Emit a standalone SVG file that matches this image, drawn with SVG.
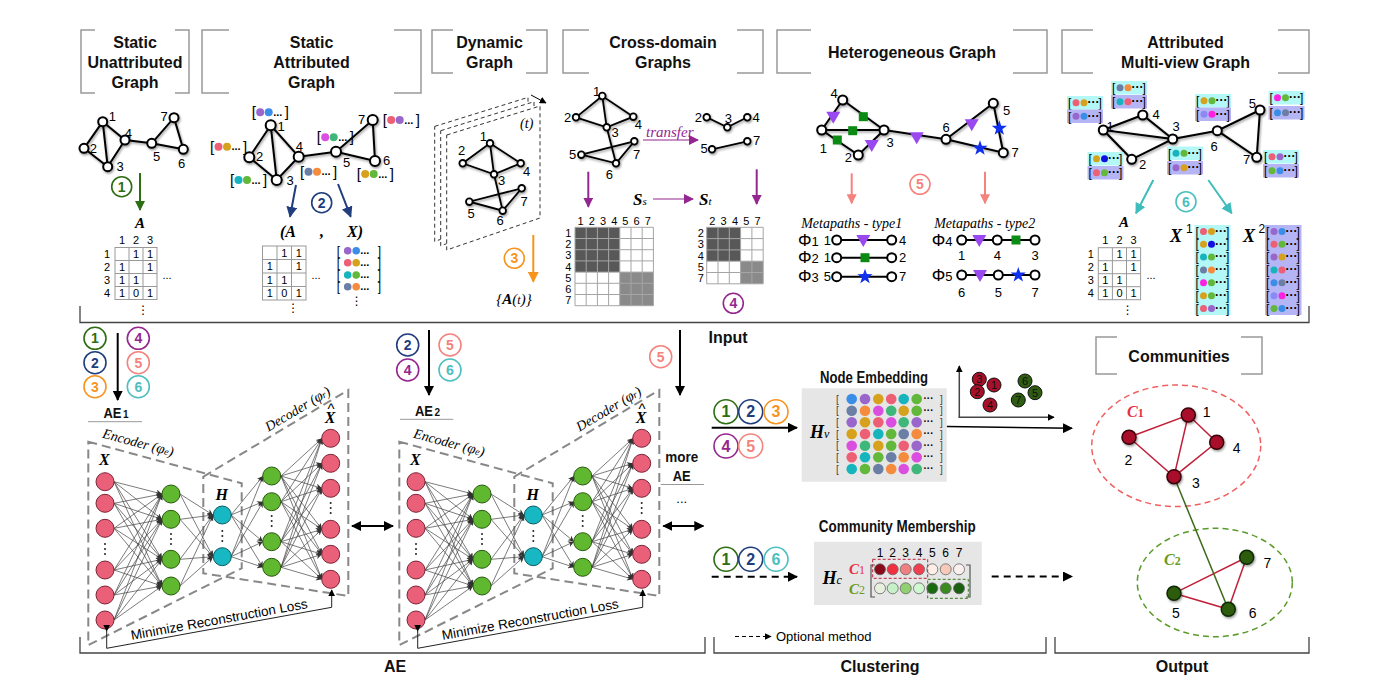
<svg xmlns="http://www.w3.org/2000/svg" width="1395" height="695" viewBox="0 0 1395 695">
<style>
text{font-family:"Liberation Sans",Arial,sans-serif}
.tt{font-weight:bold;font-size:16px;text-anchor:middle;fill:#111}
.hb{fill:none;stroke:#999;stroke-width:1.5}
.sec{fill:none;stroke:#444;stroke-width:1.3}
.ge{stroke:#000;stroke-width:2;fill:none}
.gn{fill:#fff;stroke:#000;stroke-width:2}
.ge2{stroke:#000;stroke-width:1.8;fill:none}
.gn2{fill:#fff;stroke:#000;stroke-width:1.8}
.lb{font-size:13px;text-anchor:middle}
.mt{font-size:11px;text-anchor:middle}
.grid{fill:none;stroke:#999;stroke-width:1}
.math{font-family:"Liberation Serif","Times New Roman",serif;font-style:italic;font-weight:bold}
.it{font-family:"Liberation Serif","Times New Roman",serif;font-style:italic}
.vd{font-family:"DejaVu Sans",sans-serif;font-size:12px;text-anchor:middle}
.cn circle{fill:#fff;stroke-width:1.6}
.cn text{font-weight:bold;font-size:14px;text-anchor:middle}
.big text{font-size:16px}
.k1 circle{stroke:#2d6e12}.k1 text{fill:#2d6e12}
.k2 circle{stroke:#203d7d}.k2 text{fill:#203d7d}
.k3 circle{stroke:#f7941d}.k3 text{fill:#f7941d}
.k4 circle{stroke:#93278f}.k4 text{fill:#93278f}
.k5 circle{stroke:#f4837d}.k5 text{fill:#f4837d}
.k6 circle{stroke:#4dbfbf}.k6 text{fill:#4dbfbf}
.bk{font-size:15px}
.dd{font-size:11px;font-weight:bold}
.bs{font-size:12px}
.ds{font-size:12px;font-weight:bold}
.cy{fill:#b3f7f7}
.lv{fill:#b5b5f5}
.nl line{stroke:#444;stroke-width:0.7;marker-end:url(#sa)}
.dash{fill:none;stroke:#888;stroke-width:2;stroke-dasharray:9 5}
.pk{fill:#ea6079;stroke:#7a2436;stroke-width:1}
.gr{fill:#5fb82f;stroke:#2a5a10;stroke-width:1}
.tl{fill:#17b8c4;stroke:#0a5a60;stroke-width:1}
.dot{fill:#222}
.cap{font-weight:bold;fill:#111}
</style>
<defs>
<filter id="sh" x="-10%" y="-10%" width="130%" height="130%"><feDropShadow dx="1" dy="1.5" stdDeviation="1" flood-opacity="0.4"/></filter>
<marker id="ak" viewBox="0 0 10 10" refX="9" refY="5" markerWidth="10" markerHeight="10" markerUnits="userSpaceOnUse" orient="auto-start-reverse"><path d="M0,0 L10,5 L0,10 z" fill="#000"/></marker>
<marker id="aks" viewBox="0 0 10 10" refX="9" refY="5" markerWidth="7" markerHeight="7" markerUnits="userSpaceOnUse" orient="auto"><path d="M0,0 L10,5 L0,10 z" fill="#000"/></marker>
<marker id="ag" viewBox="0 0 10 10" refX="9" refY="5" markerWidth="10" markerHeight="12" markerUnits="userSpaceOnUse" orient="auto"><path d="M0,0 L10,5 L0,10 z" fill="#2d6e12"/></marker>
<marker id="an" viewBox="0 0 10 10" refX="9" refY="5" markerWidth="11" markerHeight="11" markerUnits="userSpaceOnUse" orient="auto"><path d="M0,0 L10,5 L0,10 z" fill="#203d7d"/></marker>
<marker id="ao" viewBox="0 0 10 10" refX="9" refY="5" markerWidth="11" markerHeight="11" markerUnits="userSpaceOnUse" orient="auto"><path d="M0,0 L10,5 L0,10 z" fill="#f7941d"/></marker>
<marker id="ap" viewBox="0 0 10 10" refX="9" refY="5" markerWidth="10" markerHeight="10" markerUnits="userSpaceOnUse" orient="auto"><path d="M0,0 L10,5 L0,10 z" fill="#93278f"/></marker>
<marker id="as" viewBox="0 0 10 10" refX="9" refY="5" markerWidth="10" markerHeight="10" markerUnits="userSpaceOnUse" orient="auto"><path d="M0,0 L10,5 L0,10 z" fill="#f4837d"/></marker>
<marker id="at" viewBox="0 0 10 10" refX="9" refY="5" markerWidth="11" markerHeight="11" markerUnits="userSpaceOnUse" orient="auto"><path d="M0,0 L10,5 L0,10 z" fill="#3fbcbc"/></marker>
<marker id="sa" viewBox="0 0 10 10" refX="10" refY="5" markerWidth="6" markerHeight="6" markerUnits="userSpaceOnUse" orient="auto"><path d="M0,0 L10,5 L0,10 L3,5 z" fill="#333"/></marker>
<path id="tri" d="M-7,-5 L7,-5 L0,7 Z" fill="#9a48f0"/>
<rect id="sq" x="-4.5" y="-4.5" width="9" height="9" fill="#0b8a14"/>
<path id="star" d="M0,-8 L1.88,-2.59 L7.61,-2.47 L3.04,0.99 L4.70,6.47 L0,3.2 L-4.70,6.47 L-3.04,0.99 L-7.61,-2.47 L-1.88,-2.59 Z" fill="#1030f0"/>
<g id="aenet">
<polygon class="dash" points="88.3,441.7 241.7,483.3 241.7,568.3 88.3,645"/>
<polygon class="dash" points="203.3,476.7 348.3,390 348.3,596 203.3,573.3"/>
<text class="it" font-size="14" transform="translate(137,447) rotate(15.2)" text-anchor="middle">Encoder (<tspan font-size="15">φ</tspan><tspan font-size="10">e</tspan>)</text>
<text class="it" font-size="14" transform="translate(300,413) rotate(-30.9)" text-anchor="middle">Decoder (<tspan font-size="15">φ</tspan><tspan font-size="10">r</tspan>)</text>
<text class="math" font-size="16" x="104.3" y="465" text-anchor="middle">X</text>
<text class="math" font-size="16" x="330" y="423" text-anchor="middle">X</text>
<text font-family="Liberation Serif,serif" font-size="15" x="331" y="414" text-anchor="middle">^</text>
<text class="math" font-size="16" x="221.7" y="500" text-anchor="middle">H</text>
<g class="nl">
<line x1="114" y1="481.7" x2="162" y2="494"/><line x1="114" y1="481.7" x2="162" y2="519.3"/><line x1="114" y1="481.7" x2="162" y2="559.3"/><line x1="114" y1="481.7" x2="162" y2="586"/>
<line x1="114" y1="503.3" x2="162" y2="494"/><line x1="114" y1="503.3" x2="162" y2="519.3"/><line x1="114" y1="503.3" x2="162" y2="559.3"/><line x1="114" y1="503.3" x2="162" y2="586"/>
<line x1="114" y1="528.3" x2="162" y2="494"/><line x1="114" y1="528.3" x2="162" y2="519.3"/><line x1="114" y1="528.3" x2="162" y2="559.3"/><line x1="114" y1="528.3" x2="162" y2="586"/>
<line x1="114" y1="570" x2="162" y2="494"/><line x1="114" y1="570" x2="162" y2="519.3"/><line x1="114" y1="570" x2="162" y2="559.3"/><line x1="114" y1="570" x2="162" y2="586"/>
<line x1="114" y1="595" x2="162" y2="494"/><line x1="114" y1="595" x2="162" y2="519.3"/><line x1="114" y1="595" x2="162" y2="559.3"/><line x1="114" y1="595" x2="162" y2="586"/>
<line x1="114" y1="620" x2="162" y2="494"/><line x1="114" y1="620" x2="162" y2="519.3"/><line x1="114" y1="620" x2="162" y2="559.3"/><line x1="114" y1="620" x2="162" y2="586"/>
<line x1="180" y1="494" x2="213" y2="515"/><line x1="180" y1="494" x2="213" y2="556.7"/>
<line x1="180" y1="519.3" x2="213" y2="515"/><line x1="180" y1="519.3" x2="213" y2="556.7"/>
<line x1="180" y1="559.3" x2="213" y2="515"/><line x1="180" y1="559.3" x2="213" y2="556.7"/>
<line x1="180" y1="586" x2="213" y2="515"/><line x1="180" y1="586" x2="213" y2="556.7"/>
<line x1="231" y1="515" x2="263" y2="476"/><line x1="231" y1="515" x2="263" y2="501.7"/><line x1="231" y1="515" x2="263" y2="541.7"/><line x1="231" y1="515" x2="263" y2="567.3"/>
<line x1="231" y1="556.7" x2="263" y2="476"/><line x1="231" y1="556.7" x2="263" y2="501.7"/><line x1="231" y1="556.7" x2="263" y2="541.7"/><line x1="231" y1="556.7" x2="263" y2="567.3"/>
<line x1="281" y1="476" x2="322" y2="438.3"/><line x1="281" y1="476" x2="322" y2="463.3"/><line x1="281" y1="476" x2="322" y2="488.3"/><line x1="281" y1="476" x2="322" y2="529.3"/><line x1="281" y1="476" x2="322" y2="554.3"/><line x1="281" y1="476" x2="322" y2="579.3"/>
<line x1="281" y1="501.7" x2="322" y2="438.3"/><line x1="281" y1="501.7" x2="322" y2="463.3"/><line x1="281" y1="501.7" x2="322" y2="488.3"/><line x1="281" y1="501.7" x2="322" y2="529.3"/><line x1="281" y1="501.7" x2="322" y2="554.3"/><line x1="281" y1="501.7" x2="322" y2="579.3"/>
<line x1="281" y1="541.7" x2="322" y2="438.3"/><line x1="281" y1="541.7" x2="322" y2="463.3"/><line x1="281" y1="541.7" x2="322" y2="488.3"/><line x1="281" y1="541.7" x2="322" y2="529.3"/><line x1="281" y1="541.7" x2="322" y2="554.3"/><line x1="281" y1="541.7" x2="322" y2="579.3"/>
<line x1="281" y1="567.3" x2="322" y2="438.3"/><line x1="281" y1="567.3" x2="322" y2="463.3"/><line x1="281" y1="567.3" x2="322" y2="488.3"/><line x1="281" y1="567.3" x2="322" y2="529.3"/><line x1="281" y1="567.3" x2="322" y2="554.3"/><line x1="281" y1="567.3" x2="322" y2="579.3"/>
</g>
<g>
<circle class="pk" cx="105" cy="481.7" r="9"/><circle class="pk" cx="105" cy="503.3" r="9"/><circle class="pk" cx="105" cy="528.3" r="9"/><circle class="pk" cx="105" cy="570" r="9"/><circle class="pk" cx="105" cy="595" r="9"/><circle class="pk" cx="105" cy="620" r="9"/>
<circle class="gr" cx="171" cy="494" r="9"/><circle class="gr" cx="171" cy="519.3" r="9"/><circle class="gr" cx="171" cy="559.3" r="9"/><circle class="gr" cx="171" cy="586" r="9"/>
<circle class="tl" cx="222.3" cy="515" r="9"/><circle class="tl" cx="222.3" cy="556.7" r="9"/>
<circle class="gr" cx="271.7" cy="476" r="9"/><circle class="gr" cx="271.7" cy="501.7" r="9"/><circle class="gr" cx="271.7" cy="541.7" r="9"/><circle class="gr" cx="271.7" cy="567.3" r="9"/>
<circle class="pk" cx="330.7" cy="438.3" r="9"/><circle class="pk" cx="330.7" cy="463.3" r="9"/><circle class="pk" cx="330.7" cy="488.3" r="9"/><circle class="pk" cx="330.7" cy="529.3" r="9"/><circle class="pk" cx="330.7" cy="554.3" r="9"/><circle class="pk" cx="330.7" cy="579.3" r="9"/>
</g>
<g class="dot">
<circle cx="105" cy="544" r="1"/><circle cx="105" cy="549" r="1"/><circle cx="105" cy="554" r="1"/>
<circle cx="171" cy="534" r="1"/><circle cx="171" cy="539" r="1"/><circle cx="171" cy="544" r="1"/>
<circle cx="222.3" cy="531" r="1"/><circle cx="222.3" cy="536" r="1"/><circle cx="222.3" cy="541" r="1"/>
<circle cx="271.7" cy="516" r="1"/><circle cx="271.7" cy="521" r="1"/><circle cx="271.7" cy="526" r="1"/>
<circle cx="330.7" cy="503" r="1"/><circle cx="330.7" cy="508" r="1"/><circle cx="330.7" cy="513" r="1"/>
</g>
<path d="M106.7,631 V648.3 L331.7,607.3 V590" fill="none" stroke="#222" stroke-width="1" marker-start="url(#aks)" marker-end="url(#aks)"/>
<text font-size="13.5" transform="translate(220,624) rotate(-10.3)" text-anchor="middle">Minimize Reconstruction Loss</text>
</g>
</defs>

<!-- header boxes -->
<g id="headers">
<path class="hb" d="M95,30 H81 V93 H95 M175,30 H189 V93 H175"/>
<text class="tt" x="135" y="48">Static</text><text class="tt" x="135" y="68">Unattributed</text><text class="tt" x="135" y="88">Graph</text>
<path class="hb" d="M229,30 H202 V93 H229 M394,30 H421 V93 H394"/>
<text class="tt" x="311.5" y="48">Static</text><text class="tt" x="311.5" y="68">Attributed</text><text class="tt" x="311.5" y="88">Graph</text>
<path class="hb" d="M453,30 H432 V73 H453 M526,30 H547 V73 H526"/>
<text class="tt" x="489.5" y="48">Dynamic</text><text class="tt" x="489.5" y="68">Graph</text>
<path class="hb" d="M589,30 H563 V73 H589 M737,30 H763 V73 H737"/>
<text class="tt" x="663" y="48">Cross-domain</text><text class="tt" x="663" y="68">Graphs</text>
<path class="hb" d="M811,30 H777 V73 H811 M1013,30 H1047 V73 H1013"/>
<text class="tt" x="912" y="58">Heterogeneous Graph</text>
<path class="hb" d="M1093,30 H1062 V73 H1093 M1278,30 H1309 V73 H1278"/>
<text class="tt" x="1185.5" y="48">Attributed</text><text class="tt" x="1185.5" y="68">Multi-view Graph</text>
<path class="hb" d="M1117,337 H1096 V374 H1117 M1241,337 H1262 V374 H1241"/>
<text class="tt" x="1179" y="362">Communities</text>
</g>

<!-- section brackets -->
<g id="sections">
<path class="sec" d="M80,306 V322.5 H1309 V306"/>
<text class="tt" x="728" y="343">Input</text>
<path class="sec" d="M80,637 V653 H705 V637"/>
<text class="tt" x="395" y="672">AE</text>
<path class="sec" d="M714,637 V653 H1046 V637"/>
<text class="tt" x="880" y="672">Clustering</text>
<path class="sec" d="M1055,637 V653 H1309 V637"/>
<text class="tt" x="1182" y="672">Output</text>
</g>

<!-- Graph 1: static unattributed -->
<g id="graph1">
<g filter="url(#sh)">
<path class="ge" d="M102.7,121.7 L84,148.3 M102.7,121.7 L107.7,166.7 M102.7,121.7 L125,140 M84,148.3 L107.7,166.7 M107.7,166.7 L125,140 M125,140 L151.7,143.3 L183.3,149.3 L174,117.7 L151.7,143.3"/>
<circle class="gn" cx="102.7" cy="121.7" r="4.5"/><circle class="gn" cx="84" cy="148.3" r="4.5"/><circle class="gn" cx="107.7" cy="166.7" r="4.5"/><circle class="gn" cx="125" cy="140" r="4.5"/><circle class="gn" cx="151.7" cy="143.3" r="4.5"/><circle class="gn" cx="183.3" cy="149.3" r="4.5"/><circle class="gn" cx="174" cy="117.7" r="4.5"/>
</g>
<text class="lb" x="112.3" y="121.2">1</text><text class="lb" x="93.3" y="152.8">2</text><text class="lb" x="120" y="171.2">3</text><text class="lb" x="128.3" y="137.8">4</text><text class="lb" x="156.7" y="160.5">5</text><text class="lb" x="181.7" y="167.8">6</text><text class="lb" x="164" y="121.2">7</text>
</g>
<g id="matrix1">
<text class="math" font-size="15" x="140" y="228" text-anchor="middle">A</text>
<text class="mt" x="122" y="244">1</text><text class="mt" x="136" y="244">2</text><text class="mt" x="150" y="244">3</text>
<text class="mt" x="107" y="258">1</text><text class="mt" x="107" y="271">2</text><text class="mt" x="107" y="284">3</text><text class="mt" x="107" y="297">4</text>
<rect class="grid" x="115" y="247.5" width="42" height="52"/>
<path class="grid" d="M129,247.5 V299.5 M143,247.5 V299.5 M115,260.5 H157 M115,273.5 H157 M115,286.5 H157"/>
<text class="mt" x="136" y="258">1</text><text class="mt" x="150" y="258">1</text>
<text class="mt" x="122" y="271">1</text><text class="mt" x="150" y="271">1</text>
<text class="mt" x="122" y="284">1</text><text class="mt" x="136" y="284">1</text>
<text class="mt" x="122" y="297">1</text><text class="mt" x="136" y="297">0</text><text class="mt" x="150" y="297">1</text>
<text class="mt" x="167" y="279">...</text>
<text class="vd" x="143.3" y="314">⋮</text>
</g>

<!-- Graph 2: static attributed -->
<g id="graph2">
<g filter="url(#sh)">
<path class="ge" d="M270.7,125.3 L249.3,157.3 L276.7,180 L270.7,125.3 L298.7,156.7 L276.7,180 M298.7,156.7 L336,151.7 L375,161 L372.7,120 L336,151.7"/>
<circle class="gn" cx="270.7" cy="125.3" r="5"/><circle class="gn" cx="249.3" cy="157.3" r="5"/><circle class="gn" cx="276.7" cy="180" r="5"/><circle class="gn" cx="298.7" cy="156.7" r="5"/><circle class="gn" cx="336" cy="151.7" r="5"/><circle class="gn" cx="375" cy="161" r="5"/><circle class="gn" cx="372.7" cy="120" r="5"/>
</g>
<text class="lb" x="281" y="131">1</text><text class="lb" x="259.5" y="161.2">2</text><text class="lb" x="290" y="184.5">3</text><text class="lb" x="299.3" y="150.5">4</text><text class="lb" x="346.7" y="167.2">5</text><text class="lb" x="386.7" y="164.5">6</text><text class="lb" x="361.7" y="123.5">7</text>
<g transform="translate(251.7,112.3)"><text class="bk" x="0" y="5">[</text><circle cx="8.5" r="4" fill="#9966cc"/><circle cx="17" r="4" fill="#3b8ee8"/><text class="dd" x="21.5" y="3.5">...</text><text class="bk" x="33" y="5">]</text></g>
<g transform="translate(210,146.7)"><text class="bk" x="0" y="5">[</text><circle cx="8.5" r="4" fill="#ec5f75"/><circle cx="17" r="4" fill="#d6a21e"/><text class="dd" x="21.5" y="3.5">...</text><text class="bk" x="33" y="5">]</text></g>
<g transform="translate(230,180)"><text class="bk" x="0" y="5">[</text><circle cx="8.5" r="4" fill="#16b5bd"/><circle cx="17" r="4" fill="#62b83a"/><text class="dd" x="21.5" y="3.5">...</text><text class="bk" x="33" y="5">]</text></g>
<g transform="translate(316.7,137.3)"><text class="bk" x="0" y="5">[</text><circle cx="8.5" r="4" fill="#da4fe0"/><circle cx="17" r="4" fill="#3fb77a"/><text class="dd" x="21.5" y="3.5">...</text><text class="bk" x="33" y="5">]</text></g>
<g transform="translate(300,171.7)"><text class="bk" x="0" y="5">[</text><circle cx="8.5" r="4" fill="#6b7fa6"/><circle cx="17" r="4" fill="#f58b3c"/><text class="dd" x="21.5" y="3.5">...</text><text class="bk" x="33" y="5">]</text></g>
<g transform="translate(382.7,120)"><text class="bk" x="0" y="5">[</text><circle cx="8.5" r="4" fill="#ec5f75"/><circle cx="17" r="4" fill="#9966cc"/><text class="dd" x="21.5" y="3.5">...</text><text class="bk" x="33" y="5">]</text></g>
<g transform="translate(356.7,174)"><text class="bk" x="0" y="5">[</text><circle cx="8.5" r="4" fill="#d6a21e"/><circle cx="17" r="4" fill="#62b83a"/><text class="dd" x="21.5" y="3.5">...</text><text class="bk" x="33" y="5">]</text></g>
</g>
<g id="matrix2">
<text class="math" font-size="16" x="280" y="237">(A</text>
<text class="math" font-size="16" x="320" y="237">,</text>
<text class="math" font-size="16" x="347" y="237">X)</text>
<rect class="grid" x="262.5" y="246" width="43.5" height="54"/>
<path class="grid" d="M277,246 V300 M291.5,246 V300 M262.5,259.5 H306 M262.5,273 H306 M262.5,286.5 H306"/>
<text class="mt" x="284.2" y="256.7">1</text><text class="mt" x="298.7" y="256.7">1</text>
<text class="mt" x="269.7" y="270.2">1</text><text class="mt" x="298.7" y="270.2">1</text>
<text class="mt" x="269.7" y="283.7">1</text><text class="mt" x="284.2" y="283.7">1</text>
<text class="mt" x="269.7" y="297.2">1</text><text class="mt" x="284.2" y="297.2">0</text><text class="mt" x="298.7" y="297.2">1</text>
<text class="mt" x="316" y="279">...</text>
<text class="vd" x="293.3" y="312">⋮</text>
<g transform="translate(336.7,250.7)"><text class="bs" x="0" y="4">[</text><circle cx="11" r="3.8" fill="#9966cc"/><circle cx="19.5" r="3.8" fill="#3b8ee8"/><text class="dd" x="23.5" y="3">...</text><text class="bs" x="41" y="4">]</text></g>
<g transform="translate(336.7,262.7)"><text class="bs" x="0" y="4">[</text><circle cx="11" r="3.8" fill="#ec5f75"/><circle cx="19.5" r="3.8" fill="#d6a21e"/><text class="dd" x="23.5" y="3">...</text><text class="bs" x="41" y="4">]</text></g>
<g transform="translate(336.7,275)"><text class="bs" x="0" y="4">[</text><circle cx="11" r="3.8" fill="#16b5bd"/><circle cx="19.5" r="3.8" fill="#62b83a"/><text class="dd" x="23.5" y="3">...</text><text class="bs" x="41" y="4">]</text></g>
<g transform="translate(336.7,286.7)"><text class="bs" x="0" y="4">[</text><circle cx="11" r="3.8" fill="#6b7fa6"/><circle cx="19.5" r="3.8" fill="#f58b3c"/><text class="dd" x="23.5" y="3">...</text><text class="bs" x="41" y="4">]</text></g>
<text class="vd" x="356.7" y="305">⋮</text>
</g>

<!-- Dynamic graph -->
<g id="dynamic">
<polygon points="434.7,126.4 528,97.4 528,209.4 434.7,241.4" fill="#fff" stroke="#333" stroke-width="1" stroke-dasharray="4 3"/>
<polygon points="440.7,130.7 534,101.7 534,213.7 440.7,245.7" fill="#fff" stroke="#333" stroke-width="1" stroke-dasharray="4 3"/>
<polygon points="446.7,135 540,106 540,218 446.7,250" fill="#fff" stroke="#333" stroke-width="1" stroke-dasharray="4 3"/>
<line x1="531" y1="95" x2="546" y2="103" stroke="#000" stroke-width="1" marker-end="url(#aks)"/>
<text class="it" font-size="14" x="526.7" y="128" text-anchor="middle">(t)</text>
<g filter="url(#sh)">
<path class="ge2" d="M490,143.3 L462.7,163.3 L494,174.3 L520.7,163.3 L490,143.3 L494,174.3 L502.7,210.7 L469.3,201.7 L521.7,188.3 L502.7,210.7"/>
<circle class="gn2" cx="490" cy="143.3" r="3.3"/><circle class="gn2" cx="462.7" cy="163.3" r="3.3"/><circle class="gn2" cx="494" cy="174.3" r="3.3"/><circle class="gn2" cx="520.7" cy="163.3" r="3.3"/><circle class="gn2" cx="469.3" cy="201.7" r="3.3"/><circle class="gn2" cx="502.7" cy="210.7" r="3.3"/><circle class="gn2" cx="521.7" cy="188.3" r="3.3"/>
</g>
<text class="lb" x="483.3" y="141.2">1</text><text class="lb" x="461.7" y="154.5">2</text><text class="lb" x="501.7" y="184.5">3</text><text class="lb" x="526.7" y="176.2">4</text><text class="lb" x="471" y="217.8">5</text><text class="lb" x="500" y="225.2">6</text><text class="lb" x="524" y="206.2">7</text>
<line x1="533.3" y1="235" x2="533.3" y2="281.7" stroke="#f7941d" stroke-width="2" marker-end="url(#ao)"/>
<g class="cn k3"><circle cx="514.3" cy="258.3" r="10"/><text x="514.3" y="263.3" font-weight="normal">3</text></g>
<text class="it" font-size="15" x="514" y="304" text-anchor="middle">{<tspan class="math">A</tspan>(<tspan font-size="12">t</tspan>)}</text>
</g>

<!-- Cross-domain -->
<g id="crossdomain">
<g filter="url(#sh)">
<path class="ge2" d="M602.3,96 L576,117.3 L606.7,127.3 L633.3,116.7 L602.3,96 L606.7,127.3 L616,163.3 L581.3,154.7 L634.3,141.3 L616,163.3"/>
<circle class="gn2" cx="602.3" cy="96" r="3.3"/><circle class="gn2" cx="576" cy="117.3" r="3.3"/><circle class="gn2" cx="606.7" cy="127.3" r="3.3"/><circle class="gn2" cx="633.3" cy="116.7" r="3.3"/><circle class="gn2" cx="581.3" cy="154.7" r="3.3"/><circle class="gn2" cx="616" cy="163.3" r="3.3"/><circle class="gn2" cx="634.3" cy="141.3" r="3.3"/>
<path class="ge2" d="M706.7,117.3 L727.3,127.3 L747.3,117.3 M712,149.3 L747.3,141.3"/>
<circle class="gn2" cx="706.7" cy="117.3" r="3.3"/><circle class="gn2" cx="727.3" cy="127.3" r="3.3"/><circle class="gn2" cx="747.3" cy="117.3" r="3.3"/><circle class="gn2" cx="712" cy="149.3" r="3.3"/><circle class="gn2" cx="747.3" cy="141.3" r="3.3"/>
</g>
<text class="lb" x="596.7" y="96.2">1</text><text class="lb" x="567.7" y="121.8">2</text><text class="lb" x="615" y="137.2">3</text><text class="lb" x="638.3" y="128.5">4</text><text class="lb" x="572.7" y="159.2">5</text><text class="lb" x="609.3" y="178.8">6</text><text class="lb" x="636.7" y="158.8">7</text>
<text class="lb" x="698.3" y="121.8">2</text><text class="lb" x="728.3" y="122.5">3</text><text class="lb" x="756" y="121.8">4</text><text class="lb" x="704" y="152.8">5</text><text class="lb" x="756.7" y="145.2">7</text>
<text class="it" font-size="15" x="646" y="137" fill="#93278f">transfer</text>
<line x1="643" y1="140" x2="698" y2="140" stroke="#93278f" stroke-width="1.2" marker-end="url(#ap)"/>
<line x1="588.3" y1="171.7" x2="588.3" y2="206.7" stroke="#93278f" stroke-width="2" marker-end="url(#ap)"/>
<line x1="756.7" y1="169.3" x2="756.7" y2="204" stroke="#93278f" stroke-width="2" marker-end="url(#ap)"/>
<text class="math" font-size="17" x="633" y="205">S<tspan class="it" font-weight="normal" font-size="11">s</tspan></text>
<text class="math" font-size="17" x="699" y="205">S<tspan class="it" font-weight="normal" font-size="11">t</tspan></text>
<line x1="653" y1="199" x2="693" y2="199" stroke="#93278f" stroke-width="1.2" marker-end="url(#ap)"/>
<rect x="575" y="227.3" width="78.4" height="78.4" fill="#fff"/>
<rect x="575" y="227.3" width="44.8" height="44.8" fill="#585858"/>
<rect x="619.8" y="272.1" width="33.6" height="33.6" fill="#8a8a8a"/>
<path d="M575,227.3 H653.4 V305.7 H575 Z M586.2,227.3 V305.7 M597.4,227.3 V305.7 M608.6,227.3 V305.7 M619.8,227.3 V305.7 M631,227.3 V305.7 M642.2,227.3 V305.7 M575,238.5 H653.4 M575,249.7 H653.4 M575,260.9 H653.4 M575,272.1 H653.4 M575,283.3 H653.4 M575,294.5 H653.4" fill="none" stroke="#a5a5a5" stroke-width="1"/>
<text class="mt" x="580.6" y="225">1</text><text class="mt" x="591.8" y="225">2</text><text class="mt" x="603" y="225">3</text><text class="mt" x="614.2" y="225">4</text><text class="mt" x="625.4" y="225">5</text><text class="mt" x="636.6" y="225">6</text><text class="mt" x="647.8" y="225">7</text>
<text class="mt" x="568.3" y="236.9">1</text><text class="mt" x="568.3" y="248.1">2</text><text class="mt" x="568.3" y="259.3">3</text><text class="mt" x="568.3" y="270.5">4</text><text class="mt" x="568.3" y="281.7">5</text><text class="mt" x="568.3" y="292.9">6</text><text class="mt" x="568.3" y="304.1">7</text>
<rect x="706.7" y="227.3" width="56.5" height="56.5" fill="#fff"/>
<rect x="706.7" y="227.3" width="33.9" height="33.9" fill="#585858"/>
<rect x="740.6" y="261.2" width="22.6" height="22.6" fill="#8a8a8a"/>
<path d="M706.7,227.3 H763.2 V283.8 H706.7 Z M718,227.3 V283.8 M729.3,227.3 V283.8 M740.6,227.3 V283.8 M751.9,227.3 V283.8 M706.7,238.6 H763.2 M706.7,249.9 H763.2 M706.7,261.2 H763.2 M706.7,272.5 H763.2" fill="none" stroke="#a5a5a5" stroke-width="1"/>
<text class="mt" x="712.3" y="225">2</text><text class="mt" x="723.6" y="225">3</text><text class="mt" x="735" y="225">4</text><text class="mt" x="746.2" y="225">5</text><text class="mt" x="757.5" y="225">7</text>
<text class="mt" x="700.7" y="237">2</text><text class="mt" x="700.7" y="248.2">3</text><text class="mt" x="700.7" y="259.5">4</text><text class="mt" x="700.7" y="270.8">5</text><text class="mt" x="700.7" y="282.1">7</text>
<g class="cn k4"><circle cx="733.3" cy="303.3" r="10"/><text x="733.3" y="308.3" font-weight="normal">4</text></g>
</g>

<!-- Heterogeneous -->
<g id="hetero">
<g filter="url(#sh)">
<path class="ge" d="M842.7,100 L821.7,130 L858.3,155 L884,130 L842.7,100 M821.7,130 L884,130 L946,139.3 L993.3,103.3 L1003.3,152.7 L946,139.3"/>
<circle class="gn" cx="842.7" cy="100" r="4.5"/><circle class="gn" cx="821.7" cy="130" r="4.5"/><circle class="gn" cx="858.3" cy="155" r="4.5"/><circle class="gn" cx="884" cy="130" r="4.5"/><circle class="gn" cx="946" cy="139.3" r="4.5"/><circle class="gn" cx="993.3" cy="103.3" r="4.5"/><circle class="gn" cx="1003.3" cy="152.7" r="4.5"/>
</g>
<use href="#tri" x="833.3" y="116.7"/><use href="#sq" x="863.3" y="116.7"/><use href="#sq" x="852.7" y="130.7"/><use href="#sq" x="837.3" y="140"/><use href="#tri" x="871.7" y="145"/><use href="#tri" x="916.7" y="137.3"/><use href="#tri" x="971.7" y="124.3"/><use href="#star" x="999.3" y="128.3"/><use href="#star" x="980" y="148.3"/>
<text class="lb" x="834" y="97.8">4</text><text class="lb" x="823.3" y="152.8">1</text><text class="lb" x="848.3" y="161.8">2</text><text class="lb" x="890" y="146.8">3</text><text class="lb" x="946" y="131.8">6</text><text class="lb" x="1006.7" y="114.5">5</text><text class="lb" x="1015" y="157.2">7</text>
<line x1="851.7" y1="173.3" x2="851.7" y2="203.3" stroke="#f4837d" stroke-width="2" marker-end="url(#as)"/>
<line x1="985" y1="171.7" x2="985" y2="203.3" stroke="#f4837d" stroke-width="2" marker-end="url(#as)"/>
<g class="cn k5"><circle cx="920" cy="184.3" r="10"/><text x="920" y="189.3" font-weight="normal">5</text></g>
<text class="it" font-size="14" x="851.7" y="228" text-anchor="middle">Metapaths - type1</text>
<text class="it" font-size="14" x="984.7" y="228" text-anchor="middle">Metapaths - type2</text>
<text font-family="Liberation Serif,serif" font-size="17" x="798" y="245.5">Φ<tspan font-size="13">1</tspan></text>
<text font-family="Liberation Serif,serif" font-size="17" x="798" y="263">Φ<tspan font-size="13">2</tspan></text>
<text font-family="Liberation Serif,serif" font-size="17" x="798" y="282">Φ<tspan font-size="13">3</tspan></text>
<text font-family="Liberation Serif,serif" font-size="17" x="931.7" y="245.5">Φ<tspan font-size="13">4</tspan></text>
<text font-family="Liberation Serif,serif" font-size="17" x="931.7" y="280.5">Φ<tspan font-size="13">5</tspan></text>
<path class="ge" d="M836.7,240 H891.7 M836.7,257.7 H891.7 M836.7,276.7 H891.7 M961.7,240 H1035 M961.7,275 H1035"/>
<circle class="gn" cx="836.7" cy="240" r="4.5"/><circle class="gn" cx="891.7" cy="240" r="4.5"/>
<circle class="gn" cx="836.7" cy="257.7" r="4.5"/><circle class="gn" cx="891.7" cy="257.7" r="4.5"/>
<circle class="gn" cx="836.7" cy="276.7" r="4.5"/><circle class="gn" cx="891.7" cy="276.7" r="4.5"/>
<circle class="gn" cx="961.7" cy="240" r="4.5"/><circle class="gn" cx="997.3" cy="240" r="4.5"/><circle class="gn" cx="1035" cy="240" r="4.5"/>
<circle class="gn" cx="961.7" cy="275" r="4.5"/><circle class="gn" cx="998.3" cy="275" r="4.5"/><circle class="gn" cx="1035" cy="275" r="4.5"/>
<use href="#tri" x="863.3" y="240"/><use href="#sq" x="865" y="257.7"/><use href="#star" x="865" y="276.7"/>
<use href="#tri" x="979.3" y="240"/><use href="#sq" x="1016" y="240"/><use href="#tri" x="980" y="275"/><use href="#star" x="1018.3" y="275"/>
<text class="lb" x="827.3" y="244.7">1</text><text class="lb" x="902.7" y="244.7">4</text>
<text class="lb" x="827.3" y="262.4">1</text><text class="lb" x="902.7" y="262.4">2</text>
<text class="lb" x="827.3" y="281.4">5</text><text class="lb" x="902.7" y="281.4">7</text>
<text class="lb" x="961.7" y="259.5">1</text><text class="lb" x="997.3" y="259.5">4</text><text class="lb" x="1035" y="259.5">3</text>
<text class="lb" x="961.7" y="297">6</text><text class="lb" x="998.3" y="297">5</text><text class="lb" x="1035" y="297">7</text>
</g>

<!-- Attributed multi-view -->
<g id="multiview">
<g filter="url(#sh)">
<path class="ge" d="M1103.3,130 L1142.7,115 L1172.7,139 L1103.3,130 L1131.7,159.3 L1172.7,139 L1217.3,130.7 L1260,110 L1256.7,157.3 L1217.3,130.7"/>
<circle class="gn" cx="1103.3" cy="130" r="4.5"/><circle class="gn" cx="1142.7" cy="115" r="4.5"/><circle class="gn" cx="1131.7" cy="159.3" r="4.5"/><circle class="gn" cx="1172.7" cy="139" r="4.5"/><circle class="gn" cx="1217.3" cy="130.7" r="4.5"/><circle class="gn" cx="1260" cy="110" r="4.5"/><circle class="gn" cx="1256.7" cy="157.3" r="4.5"/>
</g>
<text class="lb" x="1110" y="131">1</text><text class="lb" x="1156" y="118.5">4</text><text class="lb" x="1142.7" y="168.5">2</text><text class="lb" x="1176" y="130.5">3</text><text class="lb" x="1214" y="150.5">6</text><text class="lb" x="1252.3" y="107.8">5</text><text class="lb" x="1246.7" y="163.8">7</text>
<g transform="translate(1067,96)"><rect class="cy" width="36" height="13.5"/><text class="bs" x="1" y="11">[</text><circle cx="9" cy="6.75" r="3.5" fill="#ec5f75"/><circle cx="17" cy="6.75" r="3.5" fill="#d6a21e"/><text class="ds" x="20.5" y="10">···</text><text class="bs" x="31.5" y="11">]</text></g>
<g transform="translate(1067,109.5)"><rect class="lv" width="36" height="13.5"/><text class="bs" x="1" y="11">[</text><circle cx="9" cy="6.75" r="3.5" fill="#9966cc"/><circle cx="17" cy="6.75" r="3.5" fill="#3b8ee8"/><text class="ds" x="20.5" y="10">···</text><text class="bs" x="31.5" y="11">]</text></g>
<g transform="translate(1111,81)"><rect class="cy" width="36" height="13.5"/><text class="bs" x="1" y="11">[</text><circle cx="9" cy="6.75" r="3.5" fill="#6b7fa6"/><circle cx="17" cy="6.75" r="3.5" fill="#f58b3c"/><text class="ds" x="20.5" y="10">···</text><text class="bs" x="31.5" y="11">]</text></g>
<g transform="translate(1111,95)"><rect class="lv" width="36" height="13.5"/><text class="bs" x="1" y="11">[</text><circle cx="9" cy="6.75" r="3.5" fill="#16b5bd"/><circle cx="17" cy="6.75" r="3.5" fill="#ec5f75"/><text class="ds" x="20.5" y="10">···</text><text class="bs" x="31.5" y="11">]</text></g>
<g transform="translate(1087.5,152)"><rect class="cy" width="36" height="13.5"/><text class="bs" x="1" y="11">[</text><circle cx="9" cy="6.75" r="3.5" fill="#d6a21e"/><circle cx="17" cy="6.75" r="3.5" fill="#1010e0"/><text class="ds" x="20.5" y="10">···</text><text class="bs" x="31.5" y="11">]</text></g>
<g transform="translate(1087.5,166)"><rect class="lv" width="36" height="13.5"/><text class="bs" x="1" y="11">[</text><circle cx="9" cy="6.75" r="3.5" fill="#ec5f75"/><circle cx="17" cy="6.75" r="3.5" fill="#62b83a"/><text class="ds" x="20.5" y="10">···</text><text class="bs" x="31.5" y="11">]</text></g>
<g transform="translate(1167,146.5)"><rect class="cy" width="36" height="13.5"/><text class="bs" x="1" y="11">[</text><circle cx="9" cy="6.75" r="3.5" fill="#16b5bd"/><circle cx="17" cy="6.75" r="3.5" fill="#62b83a"/><text class="ds" x="20.5" y="10">···</text><text class="bs" x="31.5" y="11">]</text></g>
<g transform="translate(1167,161)"><rect class="lv" width="36" height="13.5"/><text class="bs" x="1" y="11">[</text><circle cx="9" cy="6.75" r="3.5" fill="#9966cc"/><circle cx="17" cy="6.75" r="3.5" fill="#d6a21e"/><text class="ds" x="20.5" y="10">···</text><text class="bs" x="31.5" y="11">]</text></g>
<g transform="translate(1195,94)"><rect class="cy" width="36" height="13.5"/><text class="bs" x="1" y="11">[</text><circle cx="9" cy="6.75" r="3.5" fill="#d6a21e"/><circle cx="17" cy="6.75" r="3.5" fill="#62b83a"/><text class="ds" x="20.5" y="10">···</text><text class="bs" x="31.5" y="11">]</text></g>
<g transform="translate(1195,107.5)"><rect class="lv" width="36" height="13.5"/><text class="bs" x="1" y="11">[</text><circle cx="9" cy="6.75" r="3.5" fill="#8a8af5"/><circle cx="17" cy="6.75" r="3.5" fill="#ff20e0"/><text class="ds" x="20.5" y="10">···</text><text class="bs" x="31.5" y="11">]</text></g>
<g transform="translate(1268.5,91)"><rect class="cy" width="36" height="13.5"/><text class="bs" x="1" y="11">[</text><circle cx="9" cy="6.75" r="3.5" fill="#ff20e0"/><circle cx="17" cy="6.75" r="3.5" fill="#62b83a"/><text class="ds" x="20.5" y="10">···</text><text class="bs" x="31.5" y="11">]</text></g>
<g transform="translate(1268.5,106)"><rect class="lv" width="36" height="13.5"/><text class="bs" x="1" y="11">[</text><circle cx="9" cy="6.75" r="3.5" fill="#3b8ee8"/><circle cx="17" cy="6.75" r="3.5" fill="#6b7fa6"/><text class="ds" x="20.5" y="10">···</text><text class="bs" x="31.5" y="11">]</text></g>
<g transform="translate(1263,150)"><rect class="cy" width="36" height="13.5"/><text class="bs" x="1" y="11">[</text><circle cx="9" cy="6.75" r="3.5" fill="#ec5f75"/><circle cx="17" cy="6.75" r="3.5" fill="#9966cc"/><text class="ds" x="20.5" y="10">···</text><text class="bs" x="31.5" y="11">]</text></g>
<g transform="translate(1263,164)"><rect class="lv" width="36" height="13.5"/><text class="bs" x="1" y="11">[</text><circle cx="9" cy="6.75" r="3.5" fill="#62b83a"/><circle cx="17" cy="6.75" r="3.5" fill="#3b8ee8"/><text class="ds" x="20.5" y="10">···</text><text class="bs" x="31.5" y="11">]</text></g>
<line x1="1153.3" y1="180" x2="1136" y2="213.3" stroke="#3fbcbc" stroke-width="2" marker-end="url(#at)"/>
<line x1="1208.3" y1="180" x2="1231.7" y2="213.3" stroke="#3fbcbc" stroke-width="2" marker-end="url(#at)"/>
<g class="cn k6"><circle cx="1186" cy="201.7" r="10"/><text x="1186" y="206.7" font-weight="normal">6</text></g>
</g>
<g id="matrix3">
<text class="math" font-size="15" x="1124" y="227" text-anchor="middle">A</text>
<text class="mt" x="1105.4" y="244">1</text><text class="mt" x="1119.5" y="244">2</text><text class="mt" x="1133.6" y="244">3</text>
<text class="mt" x="1090.7" y="258">1</text><text class="mt" x="1090.7" y="271">2</text><text class="mt" x="1090.7" y="284">3</text><text class="mt" x="1090.7" y="297">4</text>
<rect class="grid" x="1098.3" y="247.7" width="42.3" height="52"/>
<path class="grid" d="M1112.4,247.7 V299.7 M1126.5,247.7 V299.7 M1098.3,260.7 H1140.6 M1098.3,273.7 H1140.6 M1098.3,286.7 H1140.6"/>
<text class="mt" x="1119.5" y="258.2">1</text><text class="mt" x="1133.6" y="258.2">1</text>
<text class="mt" x="1105.4" y="271.2">1</text><text class="mt" x="1133.6" y="271.2">1</text>
<text class="mt" x="1105.4" y="284.2">1</text><text class="mt" x="1119.5" y="284.2">1</text>
<text class="mt" x="1105.4" y="297.2">1</text><text class="mt" x="1119.5" y="297.2">0</text><text class="mt" x="1133.6" y="297.2">1</text>
<text class="mt" x="1151" y="279">...</text>
<text class="vd" x="1127.7" y="314">⋮</text>
</g>
<g id="X1">
<text class="math" font-size="18" x="1170" y="242">X</text><text font-family="Liberation Serif,serif" font-size="12" x="1186" y="233">1</text>
<rect class="cy" x="1194.5" y="225" width="36" height="90"/>
<g transform="translate(1194.5,225)"><text class="bs" x="1" y="10.5">[</text><circle cx="9" cy="6.4" r="3.5" fill="#ec5f75"/><circle cx="17" cy="6.4" r="3.5" fill="#d6a21e"/><text class="ds" x="20.5" y="9.6">···</text><text class="bs" x="31.5" y="10.5">]</text></g>
<g transform="translate(1194.5,237.9)"><text class="bs" x="1" y="10.5">[</text><circle cx="9" cy="6.4" r="3.5" fill="#d6a21e"/><circle cx="17" cy="6.4" r="3.5" fill="#1010e0"/><text class="ds" x="20.5" y="9.6">···</text><text class="bs" x="31.5" y="10.5">]</text></g>
<g transform="translate(1194.5,250.7)"><text class="bs" x="1" y="10.5">[</text><circle cx="9" cy="6.4" r="3.5" fill="#16b5bd"/><circle cx="17" cy="6.4" r="3.5" fill="#62b83a"/><text class="ds" x="20.5" y="9.6">···</text><text class="bs" x="31.5" y="10.5">]</text></g>
<g transform="translate(1194.5,263.6)"><text class="bs" x="1" y="10.5">[</text><circle cx="9" cy="6.4" r="3.5" fill="#6b7fa6"/><circle cx="17" cy="6.4" r="3.5" fill="#f58b3c"/><text class="ds" x="20.5" y="9.6">···</text><text class="bs" x="31.5" y="10.5">]</text></g>
<g transform="translate(1194.5,276.4)"><text class="bs" x="1" y="10.5">[</text><circle cx="9" cy="6.4" r="3.5" fill="#ff20e0"/><circle cx="17" cy="6.4" r="3.5" fill="#62b83a"/><text class="ds" x="20.5" y="9.6">···</text><text class="bs" x="31.5" y="10.5">]</text></g>
<g transform="translate(1194.5,289.3)"><text class="bs" x="1" y="10.5">[</text><circle cx="9" cy="6.4" r="3.5" fill="#d6a21e"/><circle cx="17" cy="6.4" r="3.5" fill="#62b83a"/><text class="ds" x="20.5" y="9.6">···</text><text class="bs" x="31.5" y="10.5">]</text></g>
<g transform="translate(1194.5,302.1)"><text class="bs" x="1" y="10.5">[</text><circle cx="9" cy="6.4" r="3.5" fill="#ec5f75"/><circle cx="17" cy="6.4" r="3.5" fill="#9966cc"/><text class="ds" x="20.5" y="9.6">···</text><text class="bs" x="31.5" y="10.5">]</text></g>
</g>
<g id="X2">
<text class="math" font-size="18" x="1243" y="242">X</text><text font-family="Liberation Serif,serif" font-size="12" x="1258.5" y="233">2</text>
<rect class="lv" x="1265" y="225" width="36.5" height="90"/>
<g transform="translate(1265,225)"><text class="bs" x="1" y="10.5">[</text><circle cx="9" cy="6.4" r="3.5" fill="#9966cc"/><circle cx="17" cy="6.4" r="3.5" fill="#3b8ee8"/><text class="ds" x="20.5" y="9.6">···</text><text class="bs" x="31.5" y="10.5">]</text></g>
<g transform="translate(1265,237.9)"><text class="bs" x="1" y="10.5">[</text><circle cx="9" cy="6.4" r="3.5" fill="#ec5f75"/><circle cx="17" cy="6.4" r="3.5" fill="#62b83a"/><text class="ds" x="20.5" y="9.6">···</text><text class="bs" x="31.5" y="10.5">]</text></g>
<g transform="translate(1265,250.7)"><text class="bs" x="1" y="10.5">[</text><circle cx="9" cy="6.4" r="3.5" fill="#9966cc"/><circle cx="17" cy="6.4" r="3.5" fill="#d6a21e"/><text class="ds" x="20.5" y="9.6">···</text><text class="bs" x="31.5" y="10.5">]</text></g>
<g transform="translate(1265,263.6)"><text class="bs" x="1" y="10.5">[</text><circle cx="9" cy="6.4" r="3.5" fill="#16b5bd"/><circle cx="17" cy="6.4" r="3.5" fill="#ec5f75"/><text class="ds" x="20.5" y="9.6">···</text><text class="bs" x="31.5" y="10.5">]</text></g>
<g transform="translate(1265,276.4)"><text class="bs" x="1" y="10.5">[</text><circle cx="9" cy="6.4" r="3.5" fill="#3b8ee8"/><circle cx="17" cy="6.4" r="3.5" fill="#6b7fa6"/><text class="ds" x="20.5" y="9.6">···</text><text class="bs" x="31.5" y="10.5">]</text></g>
<g transform="translate(1265,289.3)"><text class="bs" x="1" y="10.5">[</text><circle cx="9" cy="6.4" r="3.5" fill="#8a8af5"/><circle cx="17" cy="6.4" r="3.5" fill="#ff20e0"/><text class="ds" x="20.5" y="9.6">···</text><text class="bs" x="31.5" y="10.5">]</text></g>
<g transform="translate(1265,302.1)"><text class="bs" x="1" y="10.5">[</text><circle cx="9" cy="6.4" r="3.5" fill="#62b83a"/><circle cx="17" cy="6.4" r="3.5" fill="#3b8ee8"/><text class="ds" x="20.5" y="9.6">···</text><text class="bs" x="31.5" y="10.5">]</text></g>
</g>

<!-- input arrows in top -->
<g id="topconnectors">
<line x1="140" y1="173" x2="140" y2="210" stroke="#2d6e12" stroke-width="2" marker-end="url(#ag)"/>
<g class="cn k1"><circle cx="121.7" cy="186.7" r="10"/><text x="121.7" y="191.7">1</text></g>
<line x1="296" y1="185" x2="290" y2="216.7" stroke="#203d7d" stroke-width="2" marker-end="url(#an)"/>
<line x1="338" y1="184" x2="350.7" y2="216.7" stroke="#203d7d" stroke-width="2" marker-end="url(#an)"/>
<g class="cn k2"><circle cx="321.7" cy="202.7" r="10"/><text x="321.7" y="207.7">2</text></g>
</g>

<!-- AE blocks -->
<g id="ae1">
<g class="cn k1"><circle cx="95" cy="338.3" r="11"/><text x="95" y="343.3">1</text></g>
<g class="cn k2"><circle cx="95" cy="362.7" r="11"/><text x="95" y="367.7">2</text></g>
<g class="cn k3"><circle cx="95" cy="386.7" r="11"/><text x="95" y="391.7">3</text></g>
<g class="cn k4"><circle cx="138.3" cy="338.3" r="11"/><text x="138.3" y="343.3">4</text></g>
<g class="cn k5"><circle cx="138.3" cy="362.7" r="11"/><text x="138.3" y="367.7">5</text></g>
<g class="cn k6"><circle cx="138.3" cy="386.7" r="11"/><text x="138.3" y="391.7">6</text></g>
<line x1="117.7" y1="333" x2="117.7" y2="400" stroke="#000" stroke-width="2" marker-end="url(#ak)"/>
<text class="cap" font-size="14" x="103.5" y="418" textLength="18" lengthAdjust="spacingAndGlyphs">AE</text><text class="cap" font-size="10" x="123" y="418">1</text>
<line x1="88" y1="421.7" x2="142" y2="421.7" stroke="#999" stroke-width="1"/>
<use href="#aenet"/>
</g>
<g id="ae2">
<g class="cn k2"><circle cx="407.7" cy="345" r="11"/><text x="407.7" y="350">2</text></g>
<g class="cn k4"><circle cx="407.7" cy="370" r="11"/><text x="407.7" y="375">4</text></g>
<g class="cn k5"><circle cx="450" cy="345" r="11"/><text x="450" y="350">5</text></g>
<g class="cn k6"><circle cx="450" cy="370" r="11"/><text x="450" y="375">6</text></g>
<line x1="429" y1="330" x2="429" y2="395" stroke="#000" stroke-width="2" marker-end="url(#ak)"/>
<text class="cap" font-size="14" x="415" y="416" textLength="18" lengthAdjust="spacingAndGlyphs">AE</text><text class="cap" font-size="10" x="434.5" y="416">2</text>
<line x1="400" y1="419.3" x2="453.3" y2="419.3" stroke="#999" stroke-width="1"/>
<use href="#aenet" transform="translate(311,0)"/>
</g>
<g id="moreae">
<g class="cn k5"><circle cx="660.7" cy="356.7" r="11"/><text x="660.7" y="361.7" font-weight="normal">5</text></g>
<line x1="680" y1="330" x2="680" y2="395" stroke="#000" stroke-width="2" marker-end="url(#ak)"/>
<text class="cap" font-size="15" x="681.7" y="462" text-anchor="middle" textLength="33" lengthAdjust="spacingAndGlyphs">more</text>
<text class="cap" font-size="15" x="681.7" y="481" text-anchor="middle" textLength="18" lengthAdjust="spacingAndGlyphs">AE</text>
<line x1="660.7" y1="484.5" x2="704" y2="484.5" stroke="#999" stroke-width="1"/>
<text font-size="13" x="681.7" y="503" text-anchor="middle">...</text>
</g>
<g id="connectors">
<line x1="352" y1="526" x2="393" y2="526" stroke="#000" stroke-width="2" marker-start="url(#ak)" marker-end="url(#ak)"/>
<line x1="663.3" y1="526" x2="703.3" y2="526" stroke="#000" stroke-width="2" marker-start="url(#ak)" marker-end="url(#ak)"/>
<line x1="711.7" y1="427.7" x2="797" y2="427.7" stroke="#000" stroke-width="2" marker-end="url(#ak)"/>
<line x1="711.7" y1="576.7" x2="797" y2="576.7" stroke="#000" stroke-width="2" stroke-dasharray="7 5" marker-end="url(#ak)"/>
<line x1="946.7" y1="426.5" x2="1072" y2="428.3" stroke="#000" stroke-width="1.5" marker-end="url(#ak)"/>
<line x1="991.7" y1="576.5" x2="1072" y2="576.5" stroke="#000" stroke-width="2" stroke-dasharray="7 5" marker-end="url(#ak)"/>
</g>

<!-- clustering -->
<g id="cluster-inputs">
<g class="cn k1 big"><circle cx="726" cy="411.7" r="12"/><text x="726" y="417.3">1</text></g>
<g class="cn k2 big"><circle cx="750.7" cy="411.7" r="12"/><text x="750.7" y="417.3">2</text></g>
<g class="cn k3 big"><circle cx="776" cy="411.7" r="12"/><text x="776" y="417.3">3</text></g>
<g class="cn k4 big"><circle cx="726" cy="446" r="12"/><text x="726" y="451.6">4</text></g>
<g class="cn k5 big"><circle cx="750.7" cy="446" r="12"/><text x="750.7" y="451.6">5</text></g>
<g class="cn k1 big"><circle cx="726" cy="559.3" r="12"/><text x="726" y="564.9">1</text></g>
<g class="cn k2 big"><circle cx="750.7" cy="559.3" r="12"/><text x="750.7" y="564.9">2</text></g>
<g class="cn k6 big"><circle cx="776" cy="559.3" r="12"/><text x="776" y="564.9">6</text></g>
</g>
<g id="node-embedding">
<text class="cap" font-size="16" x="874" y="383" text-anchor="middle" textLength="108" lengthAdjust="spacingAndGlyphs">Node Embedding</text>
<rect x="801.7" y="388.3" width="145" height="93.4" fill="#e6e6e6"/>
<text class="math" font-size="18" x="810" y="438">H<tspan class="it" font-weight="normal" font-size="12">v</tspan></text>
<g font-size="10" fill="#444">
<text x="836" y="402.5">[</text><text x="836" y="414.2">[</text><text x="836" y="425.8">[</text><text x="836" y="437.5">[</text><text x="836" y="449.2">[</text><text x="836" y="460.8">[</text><text x="836" y="472.5">[</text>
<text x="940" y="402.5">]</text><text x="940" y="414.2">]</text><text x="940" y="425.8">]</text><text x="940" y="437.5">]</text><text x="940" y="449.2">]</text><text x="940" y="460.8">]</text><text x="940" y="472.5">]</text>
</g>
<g font-size="10" font-weight="bold">
<text x="923.5" y="402">···</text><text x="923.5" y="413.7">···</text><text x="923.5" y="425.3">···</text><text x="923.5" y="437">···</text><text x="923.5" y="448.7">···</text><text x="923.5" y="460.3">···</text><text x="923.5" y="472">···</text>
</g>
<circle cx="851.7" cy="399" r="5.3" fill="#3b8ee8"/><circle cx="865" cy="399" r="5.3" fill="#9966cc"/><circle cx="878.3" cy="399" r="5.3" fill="#d6a21e"/><circle cx="891.2" cy="399" r="5.3" fill="#ec5f75"/><circle cx="903.7" cy="399" r="5.3" fill="#16b5bd"/><circle cx="916.7" cy="399" r="5.3" fill="#62b83a"/>
<circle cx="851.7" cy="410.7" r="5.3" fill="#6b7fa6"/><circle cx="865" cy="410.7" r="5.3" fill="#f58b3c"/><circle cx="878.3" cy="410.7" r="5.3" fill="#da4fe0"/><circle cx="891.2" cy="410.7" r="5.3" fill="#3fb77a"/><circle cx="903.7" cy="410.7" r="5.3" fill="#d6a21e"/><circle cx="916.7" cy="410.7" r="5.3" fill="#62b83a"/>
<circle cx="851.7" cy="422.3" r="5.3" fill="#9966cc"/><circle cx="865" cy="422.3" r="5.3" fill="#d6a21e"/><circle cx="878.3" cy="422.3" r="5.3" fill="#ec5f75"/><circle cx="891.2" cy="422.3" r="5.3" fill="#da4fe0"/><circle cx="903.7" cy="422.3" r="5.3" fill="#3fb77a"/><circle cx="916.7" cy="422.3" r="5.3" fill="#9966cc"/>
<circle cx="851.7" cy="434" r="5.3" fill="#d6a21e"/><circle cx="865" cy="434" r="5.3" fill="#ec5f75"/><circle cx="878.3" cy="434" r="5.3" fill="#16b5bd"/><circle cx="891.2" cy="434" r="5.3" fill="#62b83a"/><circle cx="903.7" cy="434" r="5.3" fill="#6b7fa6"/><circle cx="916.7" cy="434" r="5.3" fill="#f58b3c"/>
<circle cx="851.7" cy="445.7" r="5.3" fill="#da4fe0"/><circle cx="865" cy="445.7" r="5.3" fill="#3fb77a"/><circle cx="878.3" cy="445.7" r="5.3" fill="#d6a21e"/><circle cx="891.2" cy="445.7" r="5.3" fill="#62b83a"/><circle cx="903.7" cy="445.7" r="5.3" fill="#ec5f75"/><circle cx="916.7" cy="445.7" r="5.3" fill="#9966cc"/>
<circle cx="851.7" cy="457.3" r="5.3" fill="#ec5f75"/><circle cx="865" cy="457.3" r="5.3" fill="#16b5bd"/><circle cx="878.3" cy="457.3" r="5.3" fill="#62b83a"/><circle cx="891.2" cy="457.3" r="5.3" fill="#6b7fa6"/><circle cx="903.7" cy="457.3" r="5.3" fill="#f58b3c"/><circle cx="916.7" cy="457.3" r="5.3" fill="#da4fe0"/>
<circle cx="851.7" cy="469" r="5.3" fill="#16b5bd"/><circle cx="865" cy="469" r="5.3" fill="#62b83a"/><circle cx="878.3" cy="469" r="5.3" fill="#6b7fa6"/><circle cx="891.2" cy="469" r="5.3" fill="#f58b3c"/><circle cx="903.7" cy="469" r="5.3" fill="#da4fe0"/><circle cx="916.7" cy="469" r="5.3" fill="#3fb77a"/>
</g>
<g id="scatter">
<line x1="959.3" y1="417.3" x2="959.3" y2="366" stroke="#444" stroke-width="1.5" marker-end="url(#aks)"/>
<line x1="958.5" y1="417.3" x2="1054" y2="417.3" stroke="#444" stroke-width="1.5" marker-end="url(#aks)"/>
<g stroke="#111" stroke-width="1">
<circle cx="979.3" cy="379.3" r="7" fill="#a8102a"/><circle cx="994" cy="385" r="7" fill="#a8102a"/><circle cx="977.3" cy="391.7" r="7" fill="#a8102a"/><circle cx="990" cy="405" r="7" fill="#a8102a"/>
<circle cx="1025" cy="381" r="7" fill="#2e5c10"/><circle cx="1035" cy="392.7" r="7" fill="#2e5c10"/><circle cx="1018.3" cy="400" r="7" fill="#2e5c10"/>
</g>
<g font-size="11" text-anchor="middle" fill="#111">
<text x="979.3" y="383.3">3</text><text x="994" y="389">1</text><text x="977.3" y="395.7">2</text><text x="990" y="409">4</text>
<text x="1025" y="385">6</text><text x="1035" y="396.7">5</text><text x="1018.3" y="404">7</text>
</g>
</g>
<g id="community-membership">
<text class="cap" font-size="16" x="897.3" y="532" text-anchor="middle" textLength="157" lengthAdjust="spacingAndGlyphs">Community Membership</text>
<rect x="814" y="541.7" width="167.7" height="63.3" fill="#e6e6e6"/>
<text class="math" font-size="18" x="822.5" y="584">H<tspan class="it" font-weight="normal" font-size="12">c</tspan></text>
<text class="math" font-size="15" x="849" y="573.5" fill="#e83040">C<tspan font-weight="normal" font-style="normal" font-size="12">1</tspan></text>
<text class="math" font-size="15" x="849" y="593.5" fill="#6a9a20">C<tspan font-weight="normal" font-style="normal" font-size="12">2</tspan></text>
<g font-family="Liberation Serif,serif" font-size="12" text-anchor="middle">
<text x="880" y="556.5">1</text><text x="892.7" y="556.5">2</text><text x="905.7" y="556.5">3</text><text x="919" y="556.5">4</text><text x="932.3" y="556.5">5</text><text x="945.7" y="556.5">6</text><text x="959" y="556.5">7</text>
</g>
<path d="M875,565 H871 V597 H875 M966,565 H970 V597 H966" fill="none" stroke="#555" stroke-width="1.2"/>
<g stroke="#666" stroke-width="0.8">
<circle cx="880" cy="569.3" r="5.5" fill="#8b0a1a"/><circle cx="892.7" cy="569.3" r="5.5" fill="#f03040"/><circle cx="905.7" cy="569.3" r="5.5" fill="#f08080"/><circle cx="919" cy="569.3" r="5.5" fill="#f04050"/><circle cx="932.3" cy="569.3" r="5.5" fill="#fdeee8"/><circle cx="945.7" cy="569.3" r="5.5" fill="#f8c8b8"/><circle cx="959" cy="569.3" r="5.5" fill="#faf0ee"/>
<circle cx="880" cy="588.3" r="5.5" fill="#e8f0e0"/><circle cx="892.7" cy="588.3" r="5.5" fill="#c8f0c8"/><circle cx="905.7" cy="588.3" r="5.5" fill="#90d070"/><circle cx="919" cy="588.3" r="5.5" fill="#d0f8d0"/><circle cx="932.3" cy="588.3" r="5.5" fill="#1a6a10"/><circle cx="945.7" cy="588.3" r="5.5" fill="#3a8a20"/><circle cx="959" cy="588.3" r="5.5" fill="#1a6010"/>
</g>
<rect x="872.7" y="559.3" width="55" height="19" fill="none" stroke="#c0203a" stroke-width="1" stroke-dasharray="3 2"/>
<rect x="927.7" y="579.3" width="40.6" height="19" fill="none" stroke="#3a7a20" stroke-width="1" stroke-dasharray="3 2"/>
</g>
<g id="legend">
<line x1="735" y1="636.5" x2="771" y2="636.5" stroke="#000" stroke-width="1.2" stroke-dasharray="4 3" marker-end="url(#aks)"/>
<text font-size="13" x="776" y="641">Optional method</text>
</g>

<!-- output -->
<g id="output">
<ellipse cx="1176.2" cy="445.8" rx="84.5" ry="60.8" fill="none" stroke="#f06060" stroke-width="1.5" stroke-dasharray="6 4"/>
<ellipse cx="1214.8" cy="582.5" rx="77.5" ry="54.2" fill="none" stroke="#5a9a2a" stroke-width="1.5" stroke-dasharray="6 4"/>
<text class="math" font-size="16" x="1127" y="417" fill="#e83040">C<tspan font-style="normal" font-size="12">1</tspan></text>
<text class="math" font-size="16" x="1164" y="565" fill="#6a9a20">C<tspan font-style="normal" font-size="12">2</tspan></text>
<path d="M1129,437.3 L1188.3,415 L1216.7,442.3 L1174,476.7 L1129,437.3 M1188.3,415 L1174,476.7 M1174,593.3 L1246.7,557.3 L1228.3,609.3 L1174,593.3" fill="none" stroke="#c0203a" stroke-width="1.5"/>
<line x1="1174" y1="476.7" x2="1228.3" y2="609.3" stroke="#3a6a1a" stroke-width="1.5"/>
<g filter="url(#sh)">
<circle cx="1188.3" cy="415" r="7" fill="#a8102a" stroke="#3a0008" stroke-width="1.5"/>
<circle cx="1129" cy="437.3" r="7" fill="#a8102a" stroke="#3a0008" stroke-width="1.5"/>
<circle cx="1216.7" cy="442.3" r="7" fill="#a8102a" stroke="#3a0008" stroke-width="1.5"/>
<circle cx="1174" cy="476.7" r="7" fill="#a8102a" stroke="#3a0008" stroke-width="1.5"/>
<circle cx="1246.7" cy="557.3" r="7" fill="#2e5c10" stroke="#0e2a00" stroke-width="1.5"/>
<circle cx="1174" cy="593.3" r="7" fill="#2e5c10" stroke="#0e2a00" stroke-width="1.5"/>
<circle cx="1228.3" cy="609.3" r="7" fill="#2e5c10" stroke="#0e2a00" stroke-width="1.5"/>
</g>
<g font-size="14" text-anchor="middle">
<text x="1206.7" y="416.7">1</text><text x="1128.3" y="465">2</text><text x="1236.7" y="453.3">4</text><text x="1196" y="488.3">3</text><text x="1267.3" y="567.7">7</text><text x="1176" y="618.3">5</text><text x="1252.7" y="617.7">6</text>
</g>
</g>
</svg>
